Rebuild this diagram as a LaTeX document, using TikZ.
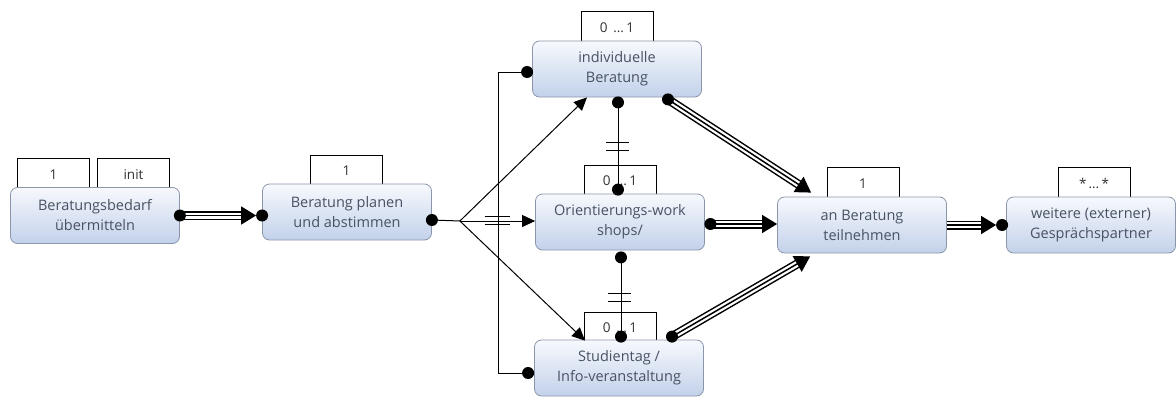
\documentclass[tikz,border=0pt]{standalone}
\usepackage{fontspec}
\setmainfont{Open Sans}
\usetikzlibrary{arrows.meta,calc}
\definecolor{boxtop}{RGB}{247,249,253}
\definecolor{boxbot}{RGB}{194,209,234}
\definecolor{boxline}{RGB}{140,150,170}
\definecolor{txt}{RGB}{72,82,100}
\begin{document}
\begin{tikzpicture}[x=1pt,y=-1pt,
  act/.style={draw=boxline, line width=0.8pt, rounded corners=7pt, top color=boxtop, bottom color=boxbot,
    minimum width=169pt, minimum height=56pt, align=center, text=txt, inner sep=0pt,
    font=\fontsize{14.5}{20}\selectfont},
  tag/.style={draw=black, line width=0.9pt, fill=white, minimum width=72pt, anchor=north, inner sep=0pt,
    text=black!80, font=\fontsize{13.5}{15}\selectfont},
  dot/.style={circle, fill=black, inner sep=0pt, minimum size=12pt},
  conn/.style={line width=1pt},
  arr/.style={line width=1pt, -{Triangle[length=13pt,width=12pt]}},
  triple/.style={line width=9pt, draw=black, shorten >=10pt,
    postaction={draw=white, line width=6pt, shorten >=10pt},
    postaction={draw=black, line width=1.5pt, shorten >=0pt, -{Triangle[length=15pt,width=18pt]}}},
  bar/.style={line width=1pt}]
\fill[white] (0,0) rectangle (1176,399);
\useasboundingbox (0,0) rectangle (1176,399);

% tags
\node[tag, minimum height=32pt] (t1a) at (53.5,158) {1};
\node[tag, minimum height=32pt] (t1b) at (133.5,158) {init};
\node[tag, minimum height=31pt] (t2) at (346.5,155) {1};
\node[tag, minimum height=32pt] (t3) at (617,11) {0 \,…\,1};
\node[tag, minimum height=31pt] (t4) at (620,165) {0 \,…\,1};
\node[tag, minimum height=30pt] (t5) at (620,312) {0 \,…\,1};
\node[tag, minimum height=32pt] (t6) at (863,167) {1};
\node[tag, minimum height=32pt] (t7) at (1094,167) {*\,…\,*};

% activities
\node[act] (b1) at (95,215.5) {Beratungsbedarf\\übermitteln};
\node[act] (b2) at (347,212) {Beratung planen\\und abstimmen};
\node[act] (b3) at (617,69) {individuelle\\Beratung};
\node[act] (b4) at (620,222) {Orientierungs-work\\shops/};
\node[act] (b5) at (619,368) {Studientag /\\Info-veranstaltung};
\node[act] (b6) at (862,225) {an Beratung\\teilnehmen};
\node[act] (b7) at (1091,225) {weitere (externer)\\Gesprächspartner};

% anchor points
\coordinate (d1e) at (b1.east);
\coordinate (d2w) at (d1e -| b2.west);
\coordinate (d2e) at ([yshift=-8pt]b2.east);
\coordinate (f) at ($(b2.east)+(28,9)$);
\coordinate (d3w) at ([xshift=-5pt,yshift=-3pt]b3.west);
\coordinate (d5w) at ([xshift=-6pt,yshift=-5pt]b5.west);
\coordinate (d3b) at ([xshift=1pt,yshift=-5pt]b3.south);
\coordinate (d3b2) at ([xshift=51pt,yshift=-2pt]b3.south);
\coordinate (d4t) at ([xshift=-2pt,yshift=4pt]b4.north);
\coordinate (d4b) at ([xshift=1pt,yshift=-7pt]b4.south);
\coordinate (d4e) at ([xshift=5.5pt,yshift=-2pt]b4.east);
\coordinate (d5t) at ([xshift=2pt,yshift=3pt]b5.north);
\coordinate (d5tr) at ([xshift=53pt,yshift=3pt]b5.north);
\coordinate (d7w) at ([xshift=-4pt]b7.west);

% thin connectors
\draw[conn] (d2e) -- (f);
\draw[arr] (f) -- ([xshift=-30pt]b3.south);
\draw[arr] (f) -- (f -| b4.west);
\draw[arr] (f) -- ([xshift=-34pt,yshift=-1pt]b5.north);
\draw[conn] (d3w) -- ++(-29,0) |- (d5w);
\draw[conn] (d3b) -- (d4t);
\draw[conn] (d4b) -- (d5t);

% crossbars
\coordinate (m0) at ($(f)!0.5!(f -| b4.west)$);
\draw[bar] (m0) ++(-13,-4.5) -- ++(25,0);
\draw[bar] (m0) ++(-13,3) -- ++(25,0);
\coordinate (m1) at ($(d3b)!0.5!(d4t)$);
\draw[bar] (m1) ++(-12,-4) -- ++(23,0);
\draw[bar] (m1) ++(-12,4) -- ++(23,0);
\coordinate (m2) at ($(d4b)!0.5!(d5t)$);
\draw[bar] (m2) ++(-13,-4) -- ++(23,0);
\draw[bar] (m2) ++(-13,4.5) -- ++(23,0);

% triple connectors
\draw[triple] (d1e) -- ([xshift=-6pt]d2w);
\draw[triple] (d3b2) -- ([xshift=34pt,yshift=4pt]b6.north west);
\draw[triple] (d4e) -- (d4e -| b6.west);
\draw[triple] (d5tr) -- ([xshift=33pt,yshift=-3pt]b6.south west);
\draw[triple] (b6.east) -- ([xshift=-6pt]d7w);

% dots
\foreach \p in {d1e,d2w,d2e,d3w,d5w,d3b,d3b2,d4t,d4b,d4e,d5t,d5tr,d7w}
  \node[dot] at (\p) {};
\end{tikzpicture}
\end{document}
